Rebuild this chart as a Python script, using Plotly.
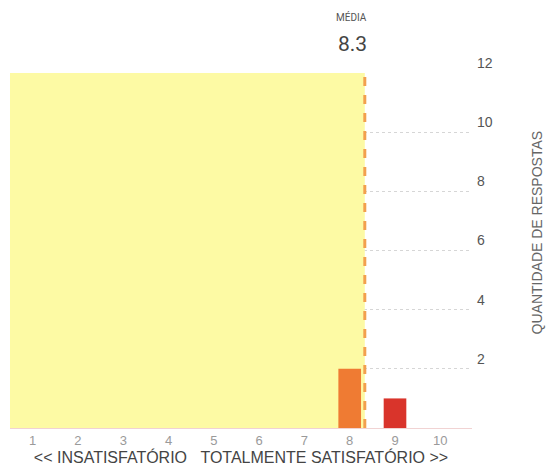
import plotly.graph_objects as go

# satisfaction score (1..10) and number of answers per score
scores = [1, 2, 3, 4, 5, 6, 7, 8, 9, 10]
answers = [0, 0, 0, 0, 0, 0, 0, 2, 1, 0]
bar_colors = ["#f6e87a", "#f6d86e", "#f5c862", "#f4b456", "#f3a04a",
              "#f28c40", "#f07a3a", "#ef7b33", "#d9342b", "#e85a5a"]
y_ticks = [2, 4, 6, 8, 10, 12]

mean = sum(s * n for s, n in zip(scores, answers)) / sum(answers)

GRAY = "#555"
BASE_FONT = "Liberation Sans, Arial, sans-serif"
SP = "&nbsp;" * 3

fig = go.Figure()
fig.add_trace(go.Bar(
    x=scores, y=answers, width=0.5,
    marker=dict(color=bar_colors, line=dict(width=0)),
    hoverinfo="x+y", showlegend=False,
))

# yellow area up to the mean, drawn over the grid but under the bars
fig.add_shape(type="rect", xref="x", yref="y", x0=0.5, x1=mean, y0=0, y1=12,
              fillcolor="#fdfaa4", line_width=0, layer="between")
# dashed mean marker
fig.add_shape(type="line", xref="x", yref="y", x0=mean, x1=mean, y0=0, y1=12,
              line=dict(color="#f2a04e", width=3, dash="dash"), layer="above")

fig.add_annotation(x=mean, xref="x", y=1, yref="paper", yshift=56, xshift=4,
                   text="MÉDIA", showarrow=False, xanchor="right", yanchor="middle",
                   font=dict(family="Roboto, sans-serif", size=10, color=GRAY))
fig.add_annotation(x=mean, xref="x", y=1, yref="paper", yshift=29, xshift=4,
                   text=f"{mean:.1f}", showarrow=False, xanchor="right", yanchor="middle",
                   font=dict(family="Roboto, sans-serif", size=21, color="#444"))
fig.add_annotation(x=1.14, xref="paper", y=0.55, yref="paper",
                   text="QUANTIDADE DE RESPOSTAS", textangle=-90, showarrow=False,
                   xanchor="center", yanchor="middle",
                   font=dict(family=BASE_FONT, size=14, color="#666"))

fig.update_xaxes(
    range=[0.5, 10.7], tickmode="array", tickvals=scores, ticktext=[str(s) for s in scores],
    showgrid=False, zeroline=False, showline=True, linecolor="#f1d3d3", linewidth=1,
    ticks="", automargin=False, tickfont=dict(family=BASE_FONT, size=13, color="#9a9a9a"),
    title=dict(text=f"<< INSATISFATÓRIO{SP}TOTALMENTE SATISFATÓRIO >>", standoff=0,
               font=dict(family=BASE_FONT, size=16, color="#444")),
)
fig.update_yaxes(
    range=[0, 12], side="right", tickvals=y_ticks, ticklabelposition="outside",
    ticklabelstandoff=4, ticklabelshift=-10,
    showgrid=True, gridcolor="#d6d6d6", griddash="dot", gridwidth=1,
    zeroline=False, showline=False, ticks="", automargin=False,
    tickfont=dict(family=BASE_FONT, size=14, color=GRAY),
)
fig.update_layout(
    width=548, height=469,
    margin=dict(l=10, r=76, t=73, b=41),
    plot_bgcolor="white", paper_bgcolor="white",
    bargap=0.5,
)

# drop the default body margin so the figure sits flush in the window
fig.write_html("out.html", config={"displayModeBar": False},
               post_script="document.body.style.margin='0';")
